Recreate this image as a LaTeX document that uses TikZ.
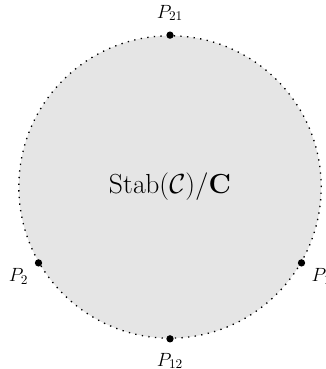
\documentclass[tikz,border=0pt]{standalone}
\usepackage{tikz}
\usetikzlibrary{positioning}

\begin{document}
\begin{tikzpicture}[
  region/.style={fill=gray!20, draw=black, line width=1pt, loosely dotted},
  pt/.style={circle, fill=black, inner sep=0pt, minimum size=5.5pt},
  ptlabel/.style={font=\fontsize{14.4}{17}\selectfont, inner sep=0pt}
]
\useasboundingbox (-4.498,-4.816) rectangle (4.127,4.947);

% === STABILITY SPACE ===
\node[region, circle, minimum size=8cm] (stab) at (0,0) {};
\node[font=\huge] (name) at (0,0) {$\mathrm{Stab}(\mathcal{C})/\mathbf{C}$};

% === POINTS ===
\node[pt] (p21) at (stab.90) {};
\node[pt] (p12) at (stab.270) {};
\node[pt] (p2) at (stab.210) {};
\node[pt] (p1) at (stab.330) {};

% labels
\node[ptlabel, above=10.5pt of p21.center] (lp21) {$P_{21}$};
\node[ptlabel, below=10.5pt of p12.center] (lp12) {$P_{12}$};
\node[ptlabel, below left=3.75pt and 7.5pt of p2.center] (lp2) {$P_{2}$};
\node[ptlabel, below right=3.75pt and 7.5pt of p1.center] (lp1) {$P_{1}$};

\end{tikzpicture}
\end{document}
